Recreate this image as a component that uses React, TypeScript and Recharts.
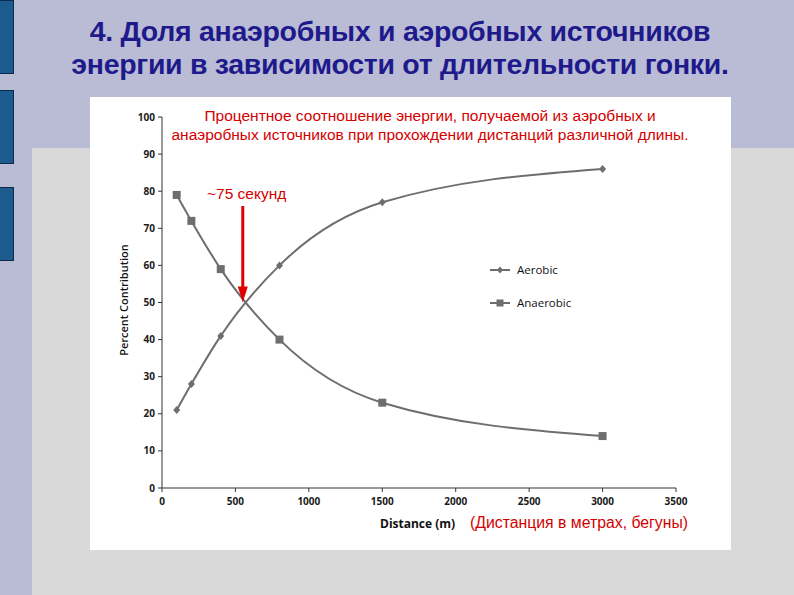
import { LineChart, Line, XAxis, YAxis, Legend, ReferenceLine } from "recharts";

const distances = [100, 200, 400, 800, 1500, 3000];
const aerobic = [21, 28, 41, 60, 77, 86];
const anaerobic = [79, 72, 59, 40, 23, 14];

const xTicks = [0, 500, 1000, 1500, 2000, 2500, 3000, 3500];
const yTicks = [0, 10, 20, 30, 40, 50, 60, 70, 80, 90, 100];

// where the two curves cross (~75 s effort)
const crossDistance = 550;
const arrowFrom = 76;
const arrowTo = 50;

const data = distances.map((d, i) => ({
  distance: d,
  Aerobic: aerobic[i],
  Anaerobic: anaerobic[i],
}));

const LINE = "#6e6e6e";
const RED = "#d40000";
const tickStyle = { fontFamily: "Open Sans", fontSize: 10, fontWeight: 700, fill: "#1a1a1a" };

const Diamond = (p: any) => {
  const { cx, cy } = p;
  if (cx == null || cy == null) return null;
  return <path d={`M${cx},${cy - 4}L${cx + 3.5},${cy}L${cx},${cy + 4}L${cx - 3.5},${cy}Z`} fill={LINE} />;
};

const Square = (p: any) => {
  const { cx, cy } = p;
  if (cx == null || cy == null) return null;
  return <rect x={cx - 4} y={cy - 4} width={8} height={8} fill={LINE} />;
};

const Arrow = (p: any) => {
  const { x1, y1, x2, y2 } = p;
  const head = 16;
  return (
    <g>
      <line x1={x1} y1={y1} x2={x2} y2={y2 - head + 2} stroke="#e00000" strokeWidth={3} />
      <polygon points={`${x2 - 5},${y2 - head} ${x2 + 5},${y2 - head} ${x2},${y2}`} fill="#e00000" />
    </g>
  );
};

const LegendBox = (props: any) => {
  const items = props.payload || [];
  return (
    <div style={{ fontFamily: "Open Sans", fontSize: 11.5, color: "#111" }}>
      {items.map((it: any) => (
        <div key={it.value} style={{ display: "flex", alignItems: "center", height: 33 }}>
          <svg width={22} height={10} style={{ marginRight: 5 }}>
            <line x1={0} y1={5} x2={20} y2={5} stroke={LINE} strokeWidth={2} />
            {it.value === "Aerobic" ? (
              <path d="M10,1.5L13,5L10,8.5L7,5Z" fill={LINE} />
            ) : (
              <rect x={6.5} y={1.5} width={7} height={7} fill={LINE} />
            )}
          </svg>
          <span>{it.value}</span>
        </div>
      ))}
    </div>
  );
};

export default function App() {
  return (
    <div
      style={{
        position: "fixed",
        left: 0,
        top: 0,
        width: 794,
        height: 595,
        overflow: "hidden",
        background: "#b9bcd4",
        fontFamily: "Liberation Sans",
      }}
    >
      {/* slide decorations */}
      <div style={{ position: "absolute", left: 32, top: 148, width: 762, height: 447, background: "#d9d9d9" }} />
      {[0, 90, 187].map((t) => (
        <div
          key={t}
          style={{
            position: "absolute",
            left: -2,
            top: t,
            width: 14,
            height: 72,
            background: "#1b5b8d",
            border: "1px solid #0b2a4a",
          }}
        />
      ))}

      <div
        style={{
          position: "absolute",
          left: 0,
          top: 15,
          width: 800,
          textAlign: "center",
          fontSize: 28.5,
          fontWeight: 700,
          lineHeight: "33px",
          color: "#1e1a8c",
          letterSpacing: -0.3,
        }}
      >
        4. Доля анаэробных и аэробных источников
        <br />
        энергии в зависимости от длительности гонки.
      </div>

      <div style={{ position: "absolute", left: 90, top: 97, width: 641, height: 453, background: "#fff" }}>
        <LineChart width={641} height={453} data={data} margin={{ top: 20, right: 55, bottom: 32, left: 32 }}>
          <XAxis
            dataKey="distance"
            type="number"
            domain={[0, 3500]}
            ticks={xTicks}
            tick={tickStyle}
            tickSize={4}
            tickMargin={6}
            height={30}
            stroke="#333"
          />
          <YAxis
            type="number"
            domain={[0, 100]}
            ticks={yTicks}
            tick={tickStyle}
            tickSize={4}
            tickMargin={3}
            width={40}
            stroke="#333"
          />
          <Legend
            layout="vertical"
            verticalAlign="middle"
            content={<LegendBox />}
            wrapperStyle={{ position: "absolute", left: 400, top: 156, width: 120 }}
          />
          <Line
            type="monotone"
            dataKey="Aerobic"
            stroke={LINE}
            strokeWidth={2}
            dot={<Diamond />}
            isAnimationActive={false}
          />
          <Line
            type="monotone"
            dataKey="Anaerobic"
            stroke={LINE}
            strokeWidth={2}
            dot={<Square />}
            isAnimationActive={false}
          />
          <ReferenceLine
            segment={[
              { x: crossDistance, y: arrowFrom },
              { x: crossDistance, y: arrowTo },
            ]}
            ifOverflow="visible"
            shape={Arrow}
          />
        </LineChart>

        <div
          style={{
            position: "absolute",
            left: 0,
            top: 9,
            width: 680,
            textAlign: "center",
            fontSize: 15.5,
            lineHeight: "19px",
            color: RED,
          }}
        >
          Процентное соотношение энергии, получаемой из аэробных и
          <br />
          анаэробных источников при прохождении дистанций различной длины.
        </div>
        <div style={{ position: "absolute", left: 117, top: 88, fontSize: 15.5, color: RED }}>~75 секунд</div>
        <div
          style={{
            position: "absolute",
            left: 290,
            top: 418,
            fontFamily: "Open Sans",
            fontSize: 12,
            fontWeight: 700,
            color: "#111",
          }}
        >
          Distance (m)
        </div>
        <div style={{ position: "absolute", left: 380, top: 417, fontSize: 15.8, color: RED }}>
          (Дистанция в метрах, бегуны)
        </div>
        <div
          style={{
            position: "absolute",
            left: 34,
            top: 203,
            transform: "rotate(-90deg)",
            transformOrigin: "0 0",
            fontFamily: "Open Sans",
            fontSize: 11,
            fontWeight: 600,
            color: "#111",
            whiteSpace: "nowrap",
            width: 0,
          }}
        >
          <span style={{ position: "absolute", left: -60, top: -8, width: 120, textAlign: "center" }}>
            Percent Contribution
          </span>
        </div>
      </div>
    </div>
  );
}
